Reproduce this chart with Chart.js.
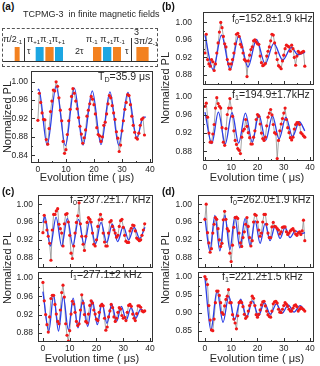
<!DOCTYPE html>
<html lang="en">
<head>
<meta charset="UTF-8">
<title>TCPMG-3 in finite magnetic fields</title>
<script src="https://cdn.jsdelivr.net/npm/chart.js"></script>
<style>
  body { margin: 0; background: #fff; }
  #fig { position: relative; width: 320px; height: 366px; overflow: hidden;
         font-family: "Liberation Sans", Arial, sans-serif; color: #262626; }
  #fig canvas { position: absolute; }
  .txt { position: absolute; white-space: nowrap; line-height: 1; }
  .panel { font-weight: bold; font-size: 10px; color: #111; }
  .ytitle { font-size: 11px; transform: translate(-50%, -50%) rotate(-90deg); }
  .xtitle { font-size: 11px; transform: translateX(-50%); }
  .note { font-size: 10.5px; }
  .seq { font-size: 9px; }
  sub { font-size: 68%; vertical-align: -0.3em; line-height: 0; }
  .dash { position: absolute; left: 2px; top: 28px; width: 154px; height: 37px; border: 1px dashed #555; }
  .line { position: absolute; background: #333; }
</style>
</head>
<body>
<div id="fig">
  <div class="dash"></div>
  <div class="line" style="left:3px; top:61px; width:154px; height:1px"></div>
  <div class="line" style="left:24px; top:38px; width:1px; height:24px"></div>
  <div class="line" style="left:131px; top:38px; width:1px; height:24px"></div>
</div>

<script>
  // evolution time grid (us)
  const evoTime = [0,0.5,1,1.5,2,2.5,3,3.5,4,4.5,5,5.5,6,6.5,7,7.5,8,8.5,9,9.5,
    10,10.5,11,11.5,12,12.5,13,13.5,14,14.5,15,15.5,16,16.5,17,17.5,18,18.5,19,19.5,
    20,20.5,21,21.5,22,22.5,23,23.5,24,24.5,25,25.5,26,26.5,27,27.5,28,28.5,29,29.5,
    30,30.5,31,31.5,32,32.5,33,33.5,34,34.5,35,35.5,36,36.5,37,37.5,38];

  // normalized PL, measured
  const plA = [0.916,0.975,0.955,0.932,0.918,0.917,0.874,0.864,0.898,0.935,
    0.958,0.982,0.980,1.000,0.990,0.965,0.938,0.915,0.870,0.844,
    0.852,0.885,0.915,0.940,0.968,0.985,0.975,0.958,0.941,0.922,
    0.903,0.886,0.866,0.878,0.895,0.925,0.938,0.952,0.968,0.962,
    0.950,0.930,0.900,0.885,0.882,0.870,0.880,0.905,0.912,0.930,
    0.952,0.970,0.965,0.948,0.932,0.918,0.891,0.877,0.848,0.862,
    0.893,0.915,0.940,0.955,0.972,0.970,0.950,0.925,0.905,0.890,
    0.878,0.875,0.888,0.905,0.918,0.921,0.884];
  const plB0 = [0.930,0.973,0.915,0.905,0.900,0.915,0.910,0.890,0.905,0.930,
    0.953,0.978,1.000,0.988,0.968,0.951,0.944,0.915,0.905,0.893,
    0.905,0.915,0.930,0.951,0.973,0.975,0.968,0.950,0.944,0.930,
    0.915,0.912,0.876,0.912,0.925,0.938,0.944,0.958,0.960,0.955,
    0.951,0.950,0.923,0.908,0.901,0.903,0.906,0.923,0.934,0.944,
    0.958,0.973,0.971,0.953,0.930,0.915,0.901,0.898,0.894,0.912,
    0.925,0.940,0.948,0.946,0.944,0.934,0.948,0.940,0.920,0.902,
    0.923,0.934,0.930,0.930,0.932,0.934,0.900];
  const plB1 = [0.979,0.986,0.955,0.920,0.900,0.900,0.918,0.939,0.975,0.998,
    0.985,0.979,0.975,0.932,0.900,0.893,0.930,0.961,0.975,0.996,
    0.975,0.957,0.925,0.904,0.895,0.886,0.882,0.875,0.911,0.925,
    0.929,0.950,0.935,0.921,0.910,0.896,0.896,0.911,0.925,0.950,
    0.961,0.957,0.940,0.920,0.908,0.904,0.911,0.936,0.955,0.964,
    0.972,0.960,0.939,0.921,0.918,0.864,0.904,0.925,0.940,0.952,
    0.964,0.975,0.950,0.932,0.921,0.910,0.905,0.911,0.929,0.939,
    0.943,0.943,0.939,0.921,0.918,0.914,0.911];
  const plC0 = [0.936,0.975,0.960,0.942,0.928,0.912,0.874,0.942,0.977,0.977,
    0.985,0.990,0.955,0.945,0.935,0.906,0.956,0.977,0.979,0.960,
    0.930,0.890,0.878,0.906,0.935,0.959,0.974,1.003,0.956,0.928,
    0.910,0.896,0.928,0.959,0.970,0.966,0.960,0.935,0.910,0.906,
    0.920,0.950,0.965,0.977,0.966,0.935,0.915,0.906,0.906,0.935,
    0.960,0.963,0.950,0.942,0.935,0.926,0.930,0.950,0.963,0.966,
    0.948,0.930,0.917,0.914,0.914,0.940,0.946,0.953,0.952,0.940,
    0.924,0.921,0.918,0.920,0.930,0.942,0.956];
  const plC1 = [0.990,0.950,0.920,0.898,0.882,0.915,0.955,0.962,0.962,0.942,
    0.921,0.905,0.900,0.930,0.968,0.984,0.958,0.900,0.875,0.862,
    0.885,0.921,0.949,0.943,0.925,0.905,0.896,0.900,0.930,0.963,
    0.945,0.920,0.905,0.902,0.921,0.940,0.950,0.945,0.930,0.921,
    0.910,0.907,0.925,0.939,0.942,0.939,0.912,0.886,0.893,0.915,
    0.928,0.942,0.935,0.915,0.905,0.912,0.925,0.935,0.932,0.918,
    0.912,0.914,0.907,0.925,0.940,0.942,0.938,0.921,0.912,0.907,
    0.922,0.939,0.939,0.936,0.928,0.926,0.928];
  const plD0 = [0.966,1.000,0.936,0.913,0.892,0.900,0.935,0.955,0.970,0.966,
    0.945,0.920,0.905,0.912,0.965,0.984,0.966,0.945,0.940,0.890,
    0.871,0.908,0.948,0.970,0.971,0.968,0.935,0.913,0.905,0.925,
    0.938,0.955,0.970,0.950,0.925,0.906,0.918,0.960,0.977,0.975,
    0.960,0.942,0.928,0.935,0.960,0.977,0.977,0.955,0.935,0.925,
    0.925,0.949,0.959,0.950,0.949,0.945,0.942,0.933,0.938,0.948,
    0.949,0.949,0.938,0.932,0.935,0.940,0.943,0.945,0.940,0.933,
    0.930,0.935,0.938,0.932,0.940,0.964,0.918];
  const plD1 = [1.000,0.993,0.978,0.920,0.880,0.853,0.851,0.883,0.928,0.960,
    0.960,0.948,0.928,0.901,0.896,0.919,0.937,0.946,0.964,0.928,
    0.928,0.895,0.883,0.872,0.856,0.892,0.928,0.932,0.928,0.917,
    0.896,0.885,0.890,0.905,0.920,0.928,0.946,0.940,0.920,0.895,
    0.888,0.896,0.908,0.922,0.930,0.932,0.919,0.905,0.895,0.890,
    0.888,0.905,0.925,0.930,0.932,0.927,0.910,0.902,0.901,0.910,
    0.920,0.928,0.924,0.918,0.910,0.905,0.905,0.913,0.920,0.922,
    0.917,0.905,0.910,0.915,0.912,0.909,0.905];

  // fitted curves, read at their turning points
  const fitA_t = [0,0.3,3.3,6.5,9.8,13.0,16.1,19.4,22.5,25.7,28.8,32.1,35.3,37.6,38.5];
  const fitA_v = [0.981,0.984,0.862,0.990,0.861,0.986,0.862,0.980,0.863,0.978,0.862,0.977,0.878,0.923,0.923];
  const fitB0_t = [0,3.1,6.3,9.6,12.9,16.4,19.6,22.9,26.2,29.6,32.9,35.4,38.1];
  const fitB0_v = [0.971,0.892,0.971,0.892,0.970,0.898,0.961,0.905,0.952,0.914,0.943,0.926,0.932];
  const fitB1_t = [0,2.6,5.1,7.7,10.3,12.8,15.4,18.0,20.5,23.1,25.7,28.2,30.8,33.3,35.9,38.0];
  const fitB1_v = [0.966,0.897,0.966,0.896,0.965,0.898,0.964,0.900,0.961,0.904,0.958,0.907,0.955,0.912,0.945,0.925];
  const fitC0_t = [0,0.7,2.8,4.9,7.0,9.1,11.2,13.3,15.4,17.5,19.6,21.7,23.8,25.9,27.9,30.0,32.0,34.1,36.1,38.1];
  const fitC0_v = [0.958,0.973,0.906,0.971,0.906,0.968,0.907,0.966,0.909,0.962,0.911,0.959,0.914,0.955,0.916,0.950,0.920,0.948,0.923,0.948];
  const fitC1_t = [0,2.2,4.0,5.8,7.6,9.5,11.3,13.1,14.9,16.7,18.5,20.3,22.1,23.9,25.7,27.5,29.3,31.1,32.9,34.7,36.5,38.0];
  const fitC1_v = [0.970,0.884,0.963,0.884,0.959,0.887,0.956,0.891,0.952,0.894,0.949,0.898,0.945,0.901,0.942,0.905,0.938,0.908,0.935,0.912,0.932,0.925];
  const fitD0_t = [0,1.9,3.8,5.7,7.6,9.5,11.4,13.3,15.3,17.2,19.1,21.0,22.9,24.8,26.7,28.6,30.5,32.4,34.4,36.3,38.1];
  const fitD0_v = [0.970,0.895,0.975,0.895,0.975,0.898,0.972,0.902,0.968,0.907,0.963,0.912,0.957,0.918,0.951,0.923,0.948,0.925,0.940,0.934,0.936];
  const fitD1_t = [0,2.3,4.6,6.9,9.1,11.3,13.6,15.9,18.1,20.4,22.6,24.9,27.2,29.4,31.7,33.9,36.2,38.0];
  const fitD1_v = [0.998,0.852,0.960,0.874,0.946,0.881,0.938,0.888,0.933,0.892,0.928,0.896,0.925,0.899,0.922,0.902,0.920,0.906];

  // tick labels
  const xTicks = [0, 10, 20, 30, 40];
  const yTicks84 = [0.84, 0.88, 0.92, 0.96, 1.00];
  const yTicks88 = [0.88, 0.92, 0.96, 1.00];
  const yTicks85 = [0.85, 0.90, 0.95, 1.00];

  // pulse sequence (schematic positions), +1 / -1 transition
  const pulseFrom = [13, 34, 43.7, 53.3, 91.3, 101.3, 111.3, 134.7];
  const pulseTo   = [17.3, 41.3, 51.3, 60.7, 99, 109, 118.7, 146.3];
  const pulseType = ['-1', '+1', '-1', '+1', '-1', '+1', '-1', '-1'];
</script>

<script>
  Chart.defaults.font.family = '"Liberation Sans", Arial, sans-serif';
  Chart.defaults.font.size = 8.5;
  Chart.defaults.color = '#262626';

  const fig = document.getElementById('fig');
  const ORANGE = '#f3811f', BLUE = '#1ca6e2';

  const framePlugin = {
    id: 'frame',
    afterDraw(chart, args, o) {
      const { ctx, chartArea: a, scales } = chart;
      const x = scales.x, y = scales.y;
      ctx.save();
      ctx.strokeStyle = '#333';
      ctx.lineWidth = 1;
      ctx.strokeRect(a.left + 0.5, a.top + 0.5, a.right - a.left - 1, a.bottom - a.top - 1);
      ctx.beginPath();
      o.yMajor.forEach((v, i) => {
        let p = Math.round(y.getPixelForValue(v)) + 0.5;
        ctx.moveTo(a.left, p); ctx.lineTo(a.left + 4, p);
        if (i > 0) {
          p = Math.round(y.getPixelForValue((v + o.yMajor[i - 1]) / 2)) + 0.5;
          ctx.moveTo(a.left, p); ctx.lineTo(a.left + 2, p);
        }
      });
      xTicks.forEach((v, i) => {
        let p = Math.round(x.getPixelForValue(v)) + 0.5;
        ctx.moveTo(p, a.bottom); ctx.lineTo(p, a.bottom - 4);
        if (i > 0) {
          p = Math.round(x.getPixelForValue(v - 5)) + 0.5;
          ctx.moveTo(p, a.bottom); ctx.lineTo(p, a.bottom - 2);
        }
      });
      ctx.stroke();
      ctx.restore();
    }
  };

  function addText(html, cls, left, top) {
    const d = document.createElement('div');
    d.className = 'txt ' + cls;
    d.innerHTML = html;
    d.style.left = left + 'px';
    d.style.top = top + 'px';
    fig.appendChild(d);
  }

  // box = plot frame in page px, range = axis limits
  function plot(box, range, yTicks, pl, fitT, fitV, showX, yPad) {
    const yw = box.l - box.cl;
    const xh = showX ? 14 : 0;
    const cv = document.createElement('canvas');
    cv.width = box.r - box.cl + 2;
    cv.height = box.b - box.t + 4 + xh - (showX ? 2 : 0);
    cv.style.left = box.cl + 'px';
    cv.style.top = (box.t - 2) + 'px';
    fig.appendChild(cv);

    const pts = evoTime.map((t, i) => ({ x: t, y: pl[i] }));
    const fit = fitT.map((t, i) => ({ x: t, y: fitV[i] }));

    return new Chart(cv, {
      type: 'line',
      data: {
        datasets: [
          { data: pts, showLine: false, pointRadius: 1.6, pointBackgroundColor: '#f01818',
            pointBorderWidth: 0 },
          { data: fit, borderColor: '#2b3ee6', borderWidth: 1.3, pointRadius: 0,
            cubicInterpolationMode: 'monotone' },
          { data: pts, borderColor: '#8f8f8f', borderWidth: 0.8, pointRadius: 0, tension: 0 }
        ]
      },
      options: {
        responsive: false,
        animation: false,
        devicePixelRatio: 1,
        layout: { padding: { top: 2, right: 2, bottom: showX ? 0 : 2, left: 0 } },
        plugins: {
          legend: { display: false },
          tooltip: { enabled: false },
          frame: { yMajor: yTicks }
        },
        scales: {
          x: {
            type: 'linear', min: range.x0, max: range.x1, display: showX,
            grid: { display: false, drawTicks: false }, border: { display: false },
            afterBuildTicks: s => { s.ticks = xTicks.map(v => ({ value: v })); },
            afterFit: s => { s.height = xh; s.paddingLeft = 0; s.paddingRight = 0; },
            ticks: { padding: 2, maxRotation: 0, autoSkip: false, callback: v => v }
          },
          y: {
            type: 'linear', min: range.y0, max: range.y1,
            grid: { display: false, drawTicks: false }, border: { display: false },
            afterBuildTicks: s => { s.ticks = yTicks.map(v => ({ value: v })); },
            afterFit: s => { s.width = yw; s.paddingTop = 0; s.paddingBottom = 0; },
            ticks: { padding: yPad, autoSkip: false, callback: v => v.toFixed(2) }
          }
        }
      },
      plugins: [framePlugin]
    });
  }

  // (a)
  plot({ cl: 0, l: 31, t: 69, r: 155, b: 163 }, { x0: -2.46, x1: 41.05, y0: 0.8229, y1: 1.0235 },
       yTicks84, plA, fitA_t, fitA_v, true, 3);
  // (b)
  plot({ cl: 160, l: 203, t: 10, r: 316, b: 87 }, { x0: -0.75, x1: 41.5, y0: 0.8568, y1: 1.0239 },
       yTicks88, plB0, fitB0_t, fitB0_v, false, 11);
  plot({ cl: 160, l: 203, t: 87, r: 316, b: 161 }, { x0: -0.75, x1: 41.5, y0: 0.8586, y1: 1.0171 },
       yTicks88, plB1, fitB1_t, fitB1_v, true, 11);
  // (c)
  plot({ cl: 0, l: 38, t: 193, r: 155, b: 270 }, { x0: -1.84, x1: 41.1, y0: 0.8566, y1: 1.0207 },
       yTicks88, plC0, fitC0_t, fitC0_v, false, 5);
  plot({ cl: 0, l: 38, t: 270, r: 155, b: 342 }, { x0: -1.84, x1: 41.1, y0: 0.8603, y1: 1.0127 },
       yTicks88, plC1, fitC1_t, fitC1_v, true, 5);
  // (d)
  plot({ cl: 160, l: 198, t: 193, r: 316, b: 270 }, { x0: -2.62, x1: 41.5, y0: 0.8566, y1: 1.0207 },
       yTicks88, plD0, fitD0_t, fitD0_v, false, 6);
  plot({ cl: 160, l: 198, t: 270, r: 316, b: 342 }, { x0: -2.62, x1: 41.5, y0: 0.8197, y1: 1.0126 },
       yTicks85, plD1, fitD1_t, fitD1_v, true, 6);

  // pulse sequence
  const pc = document.createElement('canvas');
  pc.width = 155; pc.height = 14;
  pc.style.left = '2px'; pc.style.top = '47px';
  fig.appendChild(pc);
  new Chart(pc, {
    type: 'bar',
    data: {
      labels: ['seq'],
      datasets: pulseFrom.map((s, i) => ({
        data: [[s, pulseTo[i]]],
        backgroundColor: pulseType[i] === '+1' ? BLUE : ORANGE,
        borderWidth: 0, barPercentage: 1, categoryPercentage: 1, grouped: false
      }))
    },
    options: {
      indexAxis: 'y', responsive: false, animation: false, devicePixelRatio: 1,
      layout: { padding: 0 },
      plugins: { legend: { display: false }, tooltip: { enabled: false } },
      scales: { x: { type: 'linear', min: 0, max: 155, display: false }, y: { display: false } }
    }
  });

  // texts
  addText('(a)', 'panel', 2, 2);
  addText('(b)', 'panel', 162, 2);
  addText('(c)', 'panel', 2, 187);
  addText('(d)', 'panel', 162, 187);
  addText('TCPMG-3&nbsp; in finite magnetic fields', 'seq', 23, 10);

  addText('&pi;/2<sub>-1</sub>', 'seq', 3, 35);
  addText('&pi;<sub>+1</sub>&pi;<sub>-1</sub>&pi;<sub>+1</sub>', 'seq', 27, 35);
  addText('&tau;', 'seq', 27, 47);
  addText('2&tau;', 'seq', 75, 47);
  addText('&pi;<sub>-1</sub> &pi;<sub>+1</sub>&pi;<sub>-1</sub>', 'seq', 86, 35);
  addText('&tau;', 'seq', 125, 47);
  addText('3', 'seq', 134, 28);
  addText('3&pi;/2<sub>-1</sub>', 'seq', 134, 37);

  addText('Normalized PL', 'ytitle', 7, 117);
  addText('Normalized PL', 'ytitle', 165, 88);
  addText('Normalized PL', 'ytitle', 7, 268);
  addText('Normalized PL', 'ytitle', 165, 268);
  addText('Evolution time ( &mu;s)', 'xtitle', 87, 172);
  addText('Evolution time ( &mu;s)', 'xtitle', 257, 172);
  addText('Evolution time ( &mu;s)', 'xtitle', 92, 353);
  addText('Evolution time ( &mu;s)', 'xtitle', 257, 353);

  addText('T<sub>D</sub>=35.9 &mu;s', 'note', 98, 71);
  addText('f<sub>0</sub>=152.8&plusmn;1.9 kHz', 'note', 232, 13);
  addText('f<sub>1</sub>=194.9&plusmn;1.7kHz', 'note', 232, 89);
  addText('f<sub>0</sub>=237.2&plusmn;1.7 kHz', 'note', 70, 194);
  addText('f<sub>1</sub>=277.1&plusmn;2 kHz', 'note', 70, 269);
  addText('f<sub>0</sub>=262.0&plusmn;1.9 kHz', 'note', 230, 194);
  addText('f<sub>1</sub>=221.2&plusmn;1.5 kHz', 'note', 222, 271);
</script>
</body>
</html>
